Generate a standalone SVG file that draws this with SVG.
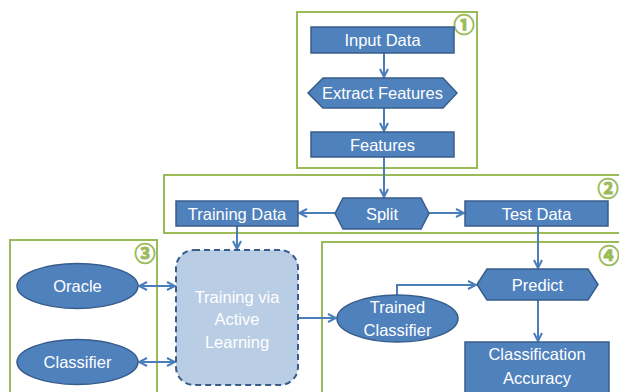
<svg xmlns="http://www.w3.org/2000/svg" width="619" height="392" viewBox="0 0 619 392">
<style>
.grp{fill:none;stroke:#9bbb59;stroke-width:2}
.num{fill:#9bbb59;stroke:#9bbb59;stroke-width:0.9;font-family:"Noto Sans CJK SC","DejaVu Sans",sans-serif;font-size:21px;font-weight:bold;text-anchor:middle;dominant-baseline:central}
.box{fill:#4f81bd;stroke:#385d8a;stroke-width:1.5}
.lt{fill:#fff;font-family:"Liberation Sans",Arial,sans-serif;font-size:16.5px;text-anchor:middle;dominant-baseline:central}
.soft{fill:#b9cde5;stroke:#385d8a;stroke-width:2;stroke-dasharray:6 4}
.con{fill:none;stroke:#4a7ebb;stroke-width:2}
</style>
<defs>
<marker id="ah" viewBox="0 0 10 10" refX="9" refY="5" markerWidth="10" markerHeight="10" markerUnits="userSpaceOnUse" orient="auto-start-reverse">
<path d="M1,1 L9,5 L1,9" fill="none" stroke="#4a7ebb" stroke-width="2"/>
</marker>
</defs>
<g id="groups">
<rect class="grp" x="297" y="12" width="180" height="156"/>
<text class="num" x="464" y="23">①</text>
<rect class="grp" x="164" y="175" width="470" height="58"/>
<text class="num" x="608" y="187">②</text>
<rect class="grp" x="10" y="240" width="147" height="170"/>
<text class="num" x="145" y="252">③</text>
<rect class="grp" x="322" y="242" width="310" height="170"/>
<text class="num" x="609" y="254">④</text>
</g>
<g id="connectors">
<line class="con" x1="384" y1="53" x2="384" y2="77" marker-end="url(#ah)"/>
<line class="con" x1="384" y1="108" x2="384" y2="131" marker-end="url(#ah)"/>
<line class="con" x1="384" y1="157" x2="384" y2="197" marker-end="url(#ah)"/>
<line class="con" x1="335" y1="213" x2="299" y2="213" marker-end="url(#ah)"/>
<line class="con" x1="429" y1="213" x2="464" y2="213" marker-end="url(#ah)"/>
<line class="con" x1="237" y1="226" x2="237" y2="249" marker-end="url(#ah)"/>
<line class="con" x1="139" y1="286" x2="175" y2="286" marker-start="url(#ah)" marker-end="url(#ah)"/>
<line class="con" x1="139" y1="362" x2="175" y2="362" marker-start="url(#ah)" marker-end="url(#ah)"/>
<line class="con" x1="298" y1="318" x2="336" y2="318" marker-end="url(#ah)"/>
<line class="con" x1="538" y1="226" x2="538" y2="268" marker-end="url(#ah)"/>
<polyline class="con" points="397,295 397,285 476,285" marker-end="url(#ah)"/>
<line class="con" x1="538" y1="300" x2="538" y2="341" marker-end="url(#ah)"/>
</g>
<g id="input-data"><rect class="box" x="311" y="27" width="143" height="26"/><text class="lt" x="382.5" y="40">Input Data</text></g>
<g id="extract-features"><polygon class="box" points="308,93 323,78 443,78 457,93 443,108 323,108"/><text class="lt" x="382.5" y="93">Extract Features</text></g>
<g id="features"><rect class="box" x="311" y="132" width="143" height="25"/><text class="lt" x="382.5" y="144.5">Features</text></g>
<g id="training-data"><rect class="box" x="176" y="201" width="122" height="25"/><text class="lt" x="237" y="213.5">Training Data</text></g>
<g id="split"><polygon class="box" points="335,213.5 343,198 421,198 429,213.5 421,229 343,229"/><text class="lt" x="382" y="213.5">Split</text></g>
<g id="test-data"><rect class="box" x="465" y="201" width="143" height="25"/><text class="lt" x="536.5" y="213.5">Test Data</text></g>
<g id="oracle"><ellipse class="box" cx="77.5" cy="286" rx="60.5" ry="22.5"/><text class="lt" x="77.5" y="286">Oracle</text></g>
<g id="classifier"><ellipse class="box" cx="77.5" cy="362" rx="60.5" ry="22.5"/><text class="lt" x="77.5" y="362">Classifier</text></g>
<g id="training-active"><rect class="soft" x="176" y="250" width="122" height="135" rx="18"/><text class="lt" x="237" y="297">Training via</text><text class="lt" x="237" y="319">Active</text><text class="lt" x="237" y="342">Learning</text></g>
<g id="trained-classifier"><ellipse class="box" cx="397.5" cy="318.5" rx="60.5" ry="23.5"/><text class="lt" x="397.5" y="307">Trained</text><text class="lt" x="397.5" y="330">Classifier</text></g>
<g id="predict"><polygon class="box" points="477,284.5 487,269 588,269 598,284.5 588,300 487,300"/><text class="lt" x="537.5" y="285">Predict</text></g>
<g id="classification-accuracy"><rect class="box" x="465" y="342" width="144" height="52"/><text class="lt" x="537" y="354">Classification</text><text class="lt" x="537" y="378">Accuracy</text></g>
</svg>
